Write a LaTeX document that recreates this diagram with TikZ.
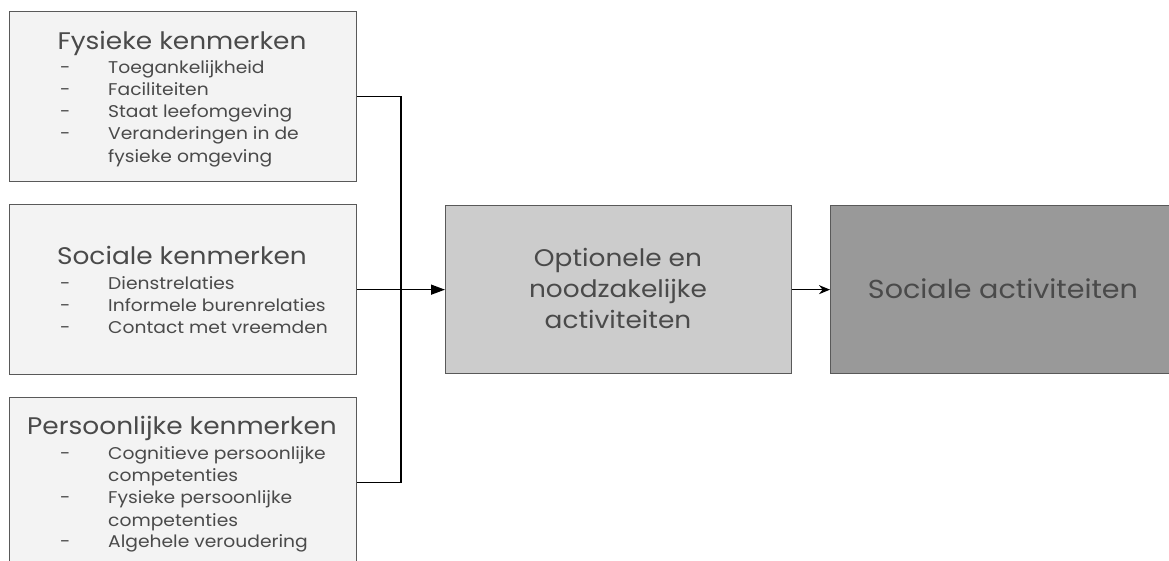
\documentclass[tikz,border=0pt]{standalone}
\usepackage{fontspec}
\setmainfont{Poppins}[FakeStretch=1.1]
\usetikzlibrary{arrows.meta}
\definecolor{edgec}{HTML}{595959}
\definecolor{txtc}{HTML}{4A4A4A}
\definecolor{lightc}{HTML}{F3F3F3}
\definecolor{midc}{HTML}{CCCCCC}
\definecolor{darkc}{HTML}{999999}
\begin{document}
\begin{tikzpicture}[x=1pt,y=-1pt,
  box/.style={draw=edgec, line width=1.3pt, anchor=north west, inner sep=0pt, minimum width=347pt, minimum height=170pt},
  ttl/.style={anchor=base, inner sep=0pt, text=txtc, font=\fontsize{24}{28}\selectfont},
  itm/.style={anchor=base west, inner sep=0pt, text=txtc, font=\fontsize{17}{22}\selectfont},
  dsh/.style={anchor=base west, inner sep=0pt, text=txtc, font=\fontsize{17}{22}\selectfont},
  big/.style={anchor=base, inner sep=0pt, text=txtc, font=\fontsize{24}{31}\selectfont},
  conn/.style={draw=black, line width=1.4pt}]
\useasboundingbox (0,0) rectangle (1169,560);
% boxes
\node[box, fill=lightc] (fys) at (9,11) {};
\node[box, fill=lightc] (soc) at (9,204) {};
\node[box, fill=lightc] (per) at (9,397) {};
\node[box, fill=midc, minimum width=346pt, minimum height=168pt] (opt) at (445,205) {};
\node[box, fill=darkc, minimum width=347pt, minimum height=168pt] (sa) at (830,205) {};
% box 1
\node[ttl] (t1) at (182,49) {Fysieke kenmerken};
\node[dsh] (d11) at (60,73) {-};
\node[itm] (i11) at (108,73) {Toegankelijkheid};
\node[dsh] (d12) at (60,95) {-};
\node[itm] (i12) at (108,95) {Faciliteiten};
\node[dsh] (d13) at (60,117) {-};
\node[itm] (i13) at (108,117) {Staat leefomgeving};
\node[dsh] (d14) at (60,139) {-};
\node[itm] (i14) at (108,139) {Veranderingen in de};
\node[itm] (i15) at (108,162) {fysieke omgeving};
% box 2
\node[ttl] (t2) at (182,264) {Sociale kenmerken};
\node[dsh] (d21) at (60,289) {-};
\node[itm] (i21) at (108,289) {Dienstrelaties};
\node[dsh] (d22) at (60,311) {-};
\node[itm] (i22) at (108,311) {Informele burenrelaties};
\node[dsh] (d23) at (60,333) {-};
\node[itm] (i23) at (108,333) {Contact met vreemden};
% box 3
\node[ttl] (t3) at (182,434) {Persoonlijke kenmerken};
\node[dsh] (d31) at (60,459) {-};
\node[itm] (i31) at (108,459) {Cognitieve persoonlijke};
\node[itm] (i32) at (108,481) {competenties};
\node[dsh] (d33) at (60,503) {-};
\node[itm] (i33) at (108,503) {Fysieke persoonlijke};
\node[itm] (i34) at (108,526) {competenties};
\node[dsh] (d35) at (60,547) {-};
\node[itm] (i35) at (108,547) {Algehele veroudering};
% middle
\node[big] (o1) at (618,266) {Optionele en};
\node[big] (o2) at (618,297) {noodzakelijke};
\node[big] (o3) at (618,328) {activiteiten};
\node[big, font=\fontsize{26}{32}\selectfont] (s1) at (1003,298) {Sociale activiteiten};
% connectors
\coordinate (bus) at (401,289);
\draw[conn] (fys.east) -| (bus) |- (per.east);
\draw[conn, -{Triangle[length=14pt,width=10pt]}] (soc.east) -- (opt.west);
\draw[conn, -{Stealth[length=11pt,width=9pt]}] (opt.east) -- (sa.west);
\end{tikzpicture}
\end{document}
